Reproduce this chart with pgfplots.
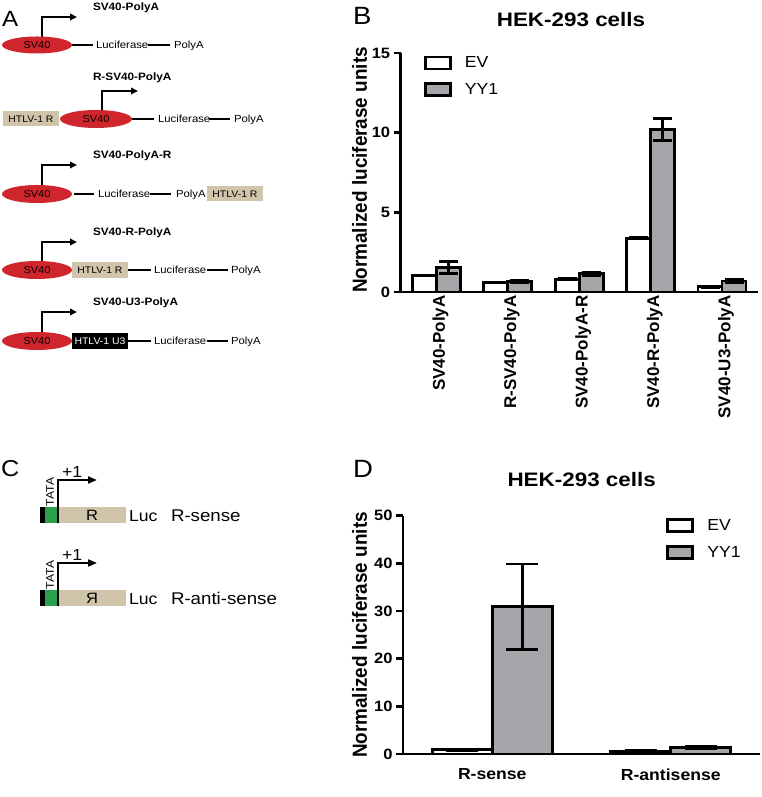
\documentclass[border=0pt]{standalone}
\usepackage{fontspec}
\setmainfont{Liberation Sans}
\newfontfamily\hfont[FakeStretch=1.1]{Liberation Sans}
\newfontfamily\tfont[FakeStretch=1.15]{Liberation Sans}
\usepackage{graphicx}
\usepackage{pgfplots}
\usepackage{pgfplotstable}
\pgfplotsset{compat=1.18}
\usetikzlibrary{arrows.meta}
\definecolor{svred}{RGB}{206,38,44}
\definecolor{beige}{RGB}{208,197,170}
\definecolor{tgreen}{RGB}{42,160,75}
\definecolor{bargray}{RGB}{166,165,170}
\newcommand{\fs}[1]{\fontsize{#1}{#1}\selectfont}

\pgfplotstableread{
x ev everr yy yyerr
0 1.03 0.03 1.53 0.37
1 0.60 0.03 0.65 0.07
2 0.79 0.04 1.15 0.10
3 3.38 0.05 10.19 0.69
4 0.33 0.03 0.69 0.07
}\tabB
\pgfplotstableread{
x ev everr yy yyerr
0 0.90 0.10 30.90 8.95
1 0.56 0.10 1.33 0.30
}\tabD

\pgfplotsset{
  hek/.style={
    scale only axis,
    axis x line*=bottom, axis y line*=left,
    axis line style={line width=2.8pt, black},
    ybar=0pt,
    ymin=0,
    enlargelimits=false,
    ytick align=outside,
    xtick align=inside,
    ytick style={line width=2.8pt, black},
    xtick style={draw=none},
    major tick length=7pt,
    /pgf/number format/assume math mode=true,
    yticklabel style={font=\hfont\bfseries\fs{15}},
    legend image code/.code={\draw[#1, line width=2.8pt] (0pt,-6pt) rectangle (25pt,6pt);},
    legend style={draw=none, fill=none, font=\hfont\fs{16}, row sep=12pt, column sep=13pt, inner sep=0pt, nodes={inner sep=0pt}},
    legend cell align=left,
    clip=false,
  },
  ev/.style={draw=black, line width=2.8pt, fill=white},
  yy/.style={draw=black, line width=2.8pt, fill=bargray},
}

\begin{document}
\begin{tikzpicture}[x=1pt,y=1pt]
\useasboundingbox (0,0) rectangle (762,797);

% ---------------- Panel letters and titles
\node[anchor=base west, inner sep=0] at (2,770) {\hfont\fs{22}A};
\node[anchor=base west, inner sep=0] at (353,772) {\hfont\fs{25}B};
\node[anchor=base west, inner sep=0] at (1,320) {\hfont\fs{23}C};
\node[anchor=base west, inner sep=0] at (353,319) {\hfont\fs{25}D};
\node[anchor=base, inner sep=0] at (571,770.3) {\tfont\bfseries\fs{19.5}HEK-293 cells};
\node[anchor=base, inner sep=0] at (581.7,310.3) {\tfont\bfseries\fs{19.5}HEK-293 cells};
\node[rotate=90, inner sep=0] at (359.5,627) {\scalebox{1}[1.08]{\bfseries\fs{18.9}Normalized luciferase units}};
\node[rotate=90, inner sep=0] at (359.5,162) {\scalebox{1}[1.08]{\bfseries\fs{18.9}Normalized luciferase units}};

% ---------------- Panel B
\begin{axis}[hek, at={(400.7pt,505pt)}, anchor=south west,
  width=357pt, height=239pt,
  xmin=-0.5, xmax=4.5, ymax=15, ytick={0,5,10,15},
  bar width=24pt,
  xtick={0,1,2,3,4},
  xticklabels={SV40-PolyA,R-SV40-PolyA,SV40-PolyA-R,SV40-R-PolyA,SV40-U3-PolyA},
  xticklabel style={rotate=90, anchor=east, yshift=-4pt, font=\bfseries\fs{17}},
  legend style={at={(0.065,0.99)}, anchor=north west},
  error bars/error bar style={line width=2.8pt, black},
  error bars/error mark options={rotate=90, line width=2.8pt, black, mark size=9.5pt},
]
\addplot[ev, error bars/.cd, y dir=both, y explicit] table[x=x, y=ev, y error=everr] {\tabB};
\addplot[yy, error bars/.cd, y dir=both, y explicit] table[x=x, y=yy, y error=yyerr] {\tabB};
\legend{EV,YY1}
\end{axis}

% ---------------- Panel D
\begin{axis}[hek, at={(403pt,43pt)}, anchor=south west,
  width=357pt, height=238.3pt,
  xmin=-0.5, xmax=1.5, ymax=50, ytick={0,10,20,30,40,50},
  bar width=60pt,
  xtick={0,1},
  xticklabels={R-sense,R-antisense},
  xticklabel style={yshift=-11pt, font=\hfont\bfseries\fs{16}},
  legend style={at={(0.7375,0.99)}, anchor=north west},
  error bars/error bar style={line width=2.8pt, black},
  error bars/error mark options={rotate=90, line width=2.8pt, black, mark size=16pt},
]
\addplot[ev, error bars/.cd, y dir=both, y explicit] table[x=x, y=ev, y error=everr] {\tabD};
\addplot[yy, error bars/.cd, y dir=both, y explicit] table[x=x, y=yy, y error=yyerr] {\tabD};
\legend{EV,YY1}
\end{axis}

% ---------------- Panel A diagrams (y measured downward)
\begin{scope}[shift={(0,797)}, yscale=-1, line width=2pt]
  \tikzset{lbl/.style={anchor=base west, inner sep=0, font=\hfont\fs{10.3}},
           ttl/.style={anchor=base west, inner sep=0, font=\hfont\bfseries\fs{10.7}},
           ctr/.style={inner sep=0, font=\hfont\fs{10}},
           arr/.style={-{Triangle[length=7pt,width=6.5pt]}, line width=2pt}}
  % Row 1
  \node[ttl] at (92,11) {SV40-PolyA};
  \draw[arr] (42,37) -- (42,17) -- (77,17);
  \fill[svred] (37,45) ellipse [x radius=35pt, y radius=8.5pt];
  \node[ctr] at (37,45) {SV40};
  \draw (72,45) -- (93,45);
  \node[lbl] at (95,48.7) {Luciferase};
  \draw (148,45) -- (170,45);
  \node[lbl] at (173,48.7) {PolyA};
  % Row 2
  \node[ttl] at (92,81) {R-SV40-PolyA};
  \fill[beige] (3,111.5) rectangle (59,126.5);
  \node[ctr, font=\hfont\fs{9.5}] at (31,119) {HTLV-1 R};
  \draw[arr] (102,110.5) -- (102,91) -- (138,91);
  \fill[svred] (96,119) ellipse [x radius=36pt, y radius=9pt];
  \node[ctr] at (96,119) {SV40};
  \draw (132,119) -- (154,119);
  \node[lbl] at (157,122.7) {Luciferase};
  \draw (209,119) -- (230,119);
  \node[lbl] at (233,122.7) {PolyA};
  % Row 3
  \node[ttl] at (92,159) {SV40-PolyA-R};
  \draw[arr] (42,185.5) -- (42,165) -- (77,165);
  \fill[svred] (37,194) ellipse [x radius=35pt, y radius=9pt];
  \node[ctr] at (37,194) {SV40};
  \draw (74,194) -- (94,194);
  \node[lbl] at (97,197.7) {Luciferase};
  \draw (150,194) -- (171,194);
  \node[lbl] at (175,197.7) {PolyA};
  \fill[beige] (207,186.5) rectangle (263,201.5);
  \node[ctr, font=\hfont\fs{9.5}] at (235,194) {HTLV-1 R};
  % Row 4
  \node[ttl] at (92,236) {SV40-R-PolyA};
  \draw[arr] (42,261.5) -- (42,242) -- (77,242);
  \fill[svred] (37,270) ellipse [x radius=35pt, y radius=9pt];
  \node[ctr] at (37,270) {SV40};
  \fill[beige] (72,262) rectangle (128,278);
  \node[ctr, font=\hfont\fs{9.5}] at (100,270) {HTLV-1 R};
  \draw (128,270) -- (151,270);
  \node[lbl] at (153,273.7) {Luciferase};
  \draw (207,270) -- (228,270);
  \node[lbl] at (230,273.7) {PolyA};
  % Row 5
  \node[ttl] at (92,306) {SV40-U3-PolyA};
  \draw[arr] (42,332.5) -- (42,312) -- (77,312);
  \fill[svred] (37,341) ellipse [x radius=35pt, y radius=9pt];
  \node[ctr] at (37,341) {SV40};
  \fill[black] (72,333) rectangle (128,349);
  \node[ctr, font=\hfont\fs{9.5}, text=white] at (100,341) {HTLV-1 U3};
  \draw (128,341) -- (151,341);
  \node[lbl] at (153,344.7) {Luciferase};
  \draw (207,341) -- (228,341);
  \node[lbl] at (230,344.7) {PolyA};

  % ---------------- Panel C
  \foreach \yb/\letter/\name in {507/R/R-sense, 590/Я/R-anti-sense}{
    \fill[black] (40,\yb) rectangle (45,\yb+16.5);
    \fill[tgreen] (45,\yb) rectangle (57.5,\yb+16.5);
    \fill[beige] (58.5,\yb) rectangle (126,\yb+16.5);
    \draw[-{Triangle[length=9pt,width=7pt]}, line width=2pt] (57.5,\yb+16.5) -- (57.5,\yb-27) -- (97,\yb-27);
    \node[inner sep=0, font=\hfont\fs{15}] at (92,\yb+8.5) {\letter};
    \node[rotate=90, inner sep=0, font=\hfont\fs{11}] at (50,\yb-15) {TATA};
    \node[anchor=base west, inner sep=0, font=\hfont\fs{16}] at (61,\yb-29) {+1};
    \node[anchor=base west, inner sep=0, font=\hfont\fs{16}] at (128,\yb+14.5) {Luc};
    \node[anchor=base west, inner sep=0, font=\hfont\fs{17}] at (170,\yb+14.5) {\name};
  }
\end{scope}
\end{tikzpicture}
\end{document}
